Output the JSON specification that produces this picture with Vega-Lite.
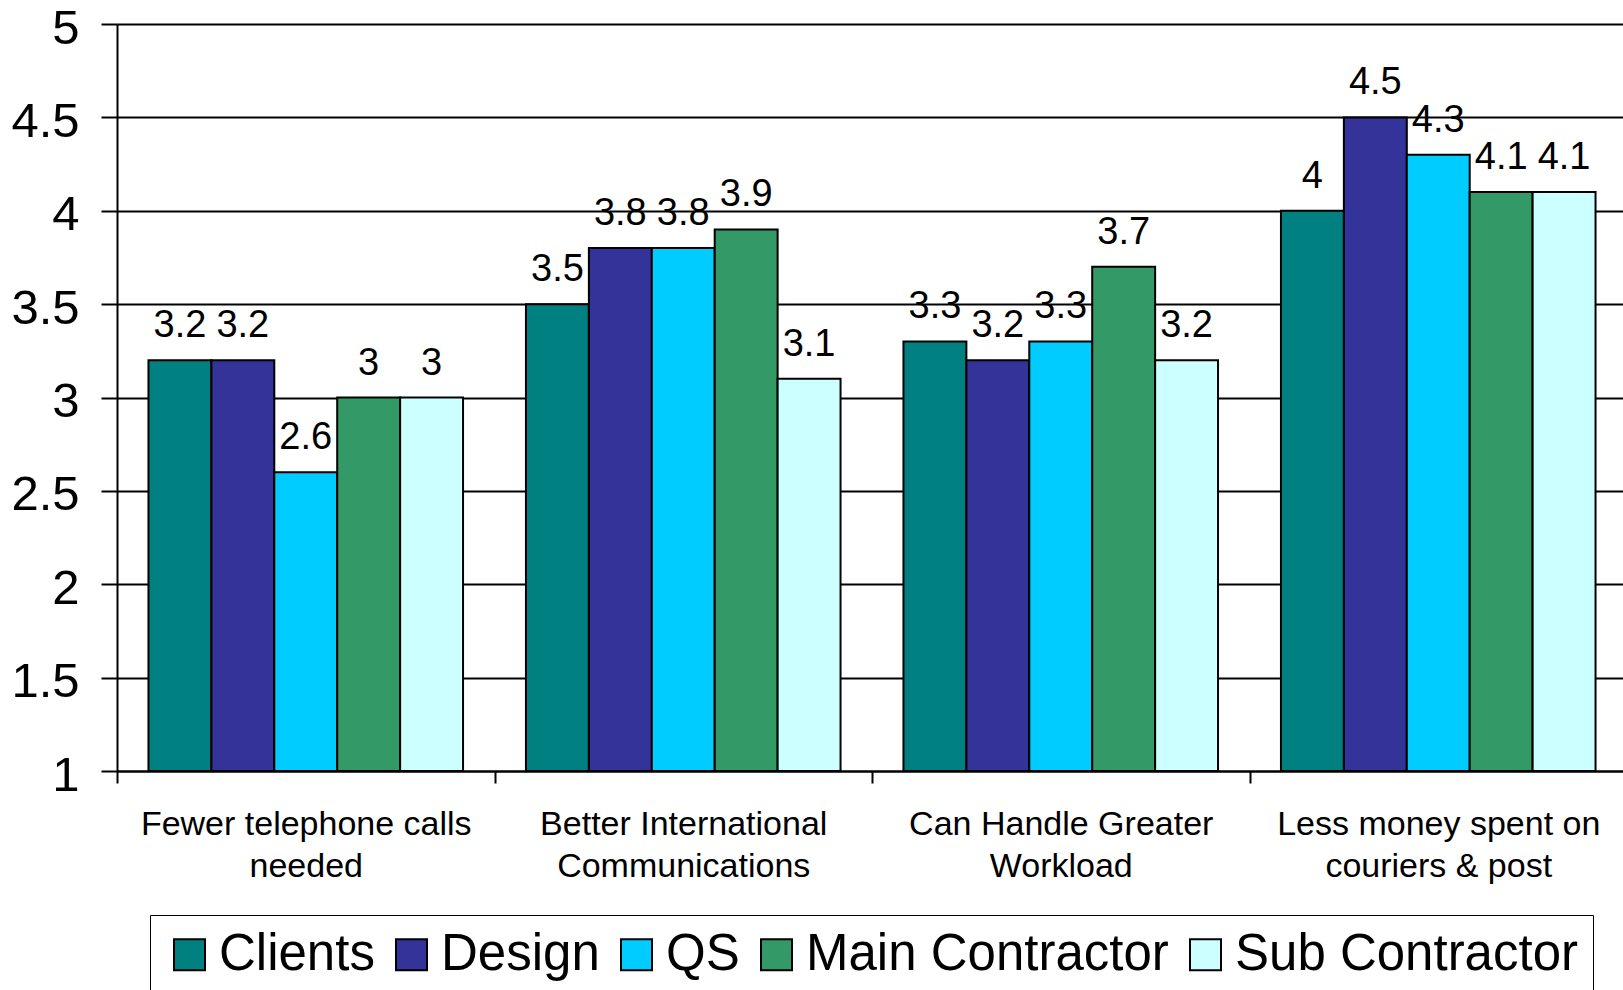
{
  "$schema": "https://vega.github.io/schema/vega-lite/v6.json",
  "width": 1510,
  "height": 747,
  "autosize": {"type": "none"},
  "padding": {"left": 117, "top": 24, "right": 0, "bottom": 219},
  "background": "white",
  "config": {
    "view": {"stroke": null},
    "font": "Liberation Sans"
  },
  "data": {
    "values": [
      {"cat": "Fewer telephone calls|needed", "group": "Clients", "value": 3.2},
      {"cat": "Fewer telephone calls|needed", "group": "Design", "value": 3.2},
      {"cat": "Fewer telephone calls|needed", "group": "QS", "value": 2.6},
      {"cat": "Fewer telephone calls|needed", "group": "Main Contractor", "value": 3},
      {"cat": "Fewer telephone calls|needed", "group": "Sub Contractor", "value": 3},
      {"cat": "Better International|Communications", "group": "Clients", "value": 3.5},
      {"cat": "Better International|Communications", "group": "Design", "value": 3.8},
      {"cat": "Better International|Communications", "group": "QS", "value": 3.8},
      {"cat": "Better International|Communications", "group": "Main Contractor", "value": 3.9},
      {"cat": "Better International|Communications", "group": "Sub Contractor", "value": 3.1},
      {"cat": "Can Handle Greater|Workload", "group": "Clients", "value": 3.3},
      {"cat": "Can Handle Greater|Workload", "group": "Design", "value": 3.2},
      {"cat": "Can Handle Greater|Workload", "group": "QS", "value": 3.3},
      {"cat": "Can Handle Greater|Workload", "group": "Main Contractor", "value": 3.7},
      {"cat": "Can Handle Greater|Workload", "group": "Sub Contractor", "value": 3.2},
      {"cat": "Less money spent on|couriers & post", "group": "Clients", "value": 4},
      {"cat": "Less money spent on|couriers & post", "group": "Design", "value": 4.5},
      {"cat": "Less money spent on|couriers & post", "group": "QS", "value": 4.3},
      {"cat": "Less money spent on|couriers & post", "group": "Main Contractor", "value": 4.1},
      {"cat": "Less money spent on|couriers & post", "group": "Sub Contractor", "value": 4.1}
    ]
  },
  "encoding": {
    "x": {
      "field": "cat", "type": "nominal", "sort": null,
      "scale": {"paddingInner": 0, "paddingOuter": 0},
      "axis": {
        "title": null,
        "labelAngle": 0,
        "labelExpr": "split(datum.label, '|')",
        "labelFontSize": 34,
        "labelColor": "black",
        "labelLineHeight": 42,
        "labelBaseline": "top",
        "labelPadding": 24,
        "labelLimit": 0,
        "tickBand": "extent",
        "tickSize": 12,
        "tickColor": "black",
        "tickWidth": 2,
        "domainColor": "black",
        "domainWidth": 2,
        "grid": false
      }
    },
    "xOffset": {
      "field": "group", "type": "nominal",
      "sort": ["Clients", "Design", "QS", "Main Contractor", "Sub Contractor"],
      "scale": {"paddingInner": 0, "paddingOuter": 0.5}
    },
    "y": {
      "field": "value", "type": "quantitative",
      "scale": {"domain": [1, 5], "nice": false, "zero": false},
      "axis": {
        "title": null,
        "values": [1, 1.5, 2, 2.5, 3, 3.5, 4, 4.5, 5],
        "format": "~g",
        "labelFontSize": 49,
        "labelColor": "black",
        "labelPadding": 22,
        "labelOffset": 4,
        "labelBaseline": "middle",
        "tickSize": 16,
        "tickColor": "black",
        "tickWidth": 2,
        "domainColor": "black",
        "domainWidth": 2,
        "grid": true,
        "gridColor": "black",
        "gridWidth": 2,
        "gridOpacity": 1
      }
    }
  },
  "layer": [
    {
      "mark": {"type": "bar", "stroke": "black", "strokeWidth": 2},
      "encoding": {
        "y2": {"datum": 1},
        "color": {
          "field": "group", "type": "nominal",
          "sort": ["Clients", "Design", "QS", "Main Contractor", "Sub Contractor"],
          "scale": {
            "domain": ["Clients", "Design", "QS", "Main Contractor", "Sub Contractor"],
            "range": ["#008080", "#333399", "#00CCFF", "#339966", "#CCFFFF"]
          },
          "legend": {
            "title": null,
            "orient": "none",
            "direction": "horizontal",
            "legendX": 33,
            "legendY": 891,
            "labelFontSize": 51,
            "labelColor": "black",
            "labelLimit": 0,
            "labelOffset": 4,
            "columnPadding": 11,
            "symbolType": "square",
            "symbolSize": 961,
            "symbolStrokeColor": "black",
            "symbolStrokeWidth": 2,
            "symbolOpacity": 1,
            "strokeColor": "black",
            "padding": 14,
            "fillColor": "white"
          }
        }
      }
    },
    {
      "mark": {"type": "text", "baseline": "bottom", "dy": -15, "fontSize": 38, "color": "black"},
      "encoding": {
        "text": {"field": "value", "type": "quantitative", "format": "~g"}
      }
    }
  ]
}
